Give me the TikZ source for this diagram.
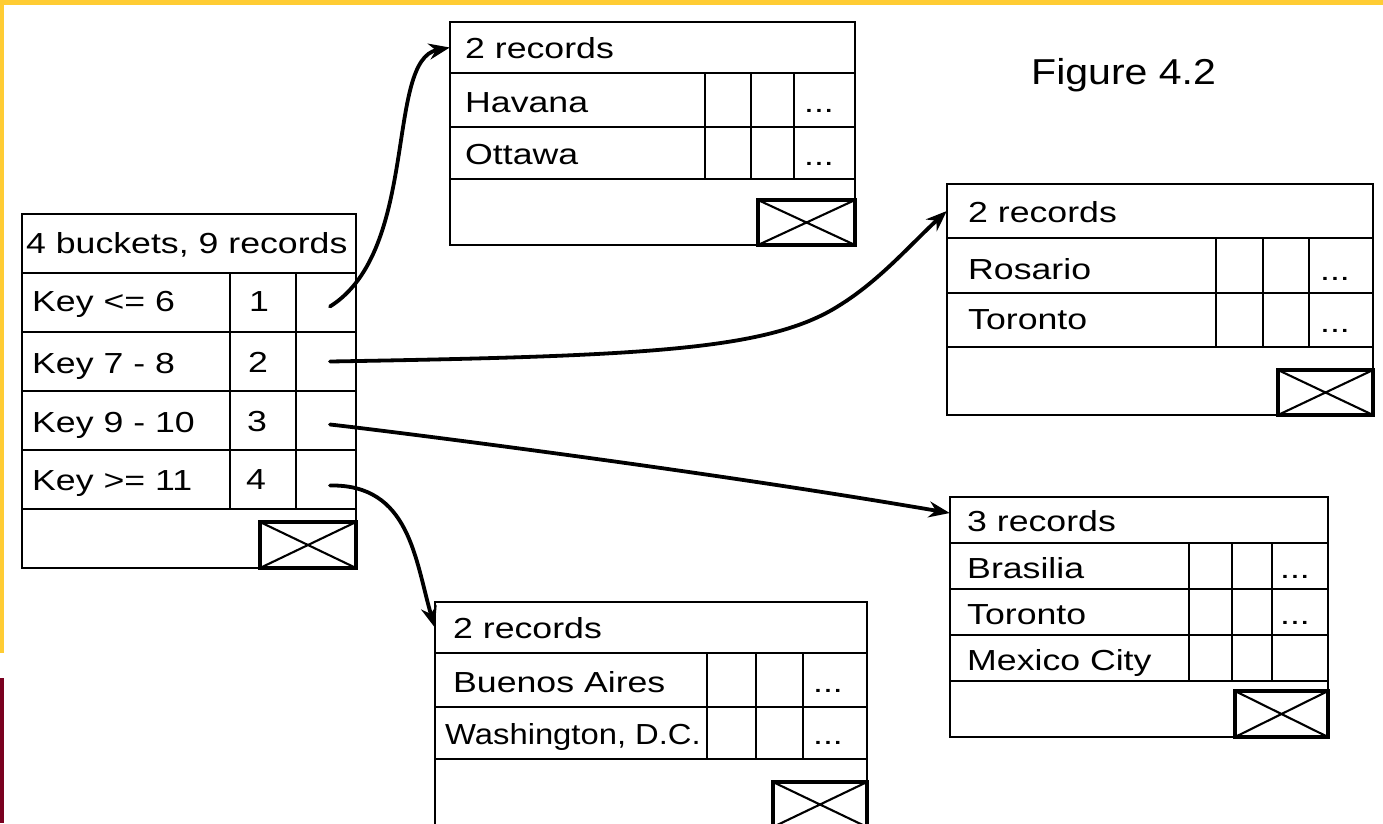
\documentclass[tikz,border=0pt]{standalone}
\usepackage{fontspec}
\setmainfont{Liberation Sans}[FakeStretch=1.23]
\newfontfamily\narrowfont{Liberation Sans}[FakeStretch=1.13]
\newfontfamily\captionfont{Liberation Sans}[FakeStretch=1.14]
\usetikzlibrary{arrows.meta}

\definecolor{bandyellow}{RGB}{255,204,51}
\definecolor{bandmaroon}{RGB}{122,0,32}

\tikzset{
  gridline/.style={line width=2.1pt},
  crossbox/.style={line width=3.2pt},
  celltext/.style={anchor=base west, inner sep=0pt, font=\fontsize{29}{33}\selectfont},
  numtext/.style={anchor=base, inner sep=0pt, font=\fontsize{29}{33}\selectfont},
  slot/.style={draw=none, inner sep=0pt},
  ptr/.style={line width=3.8pt, line cap=round, -{Stealth[length=21pt,width=16pt]}}
}

\begin{document}
\begin{tikzpicture}[x=1pt,y=-1pt]
\clip (0,0) rectangle (1383,823);
\fill[white] (0,0) rectangle (1383,823);

% slide frame bands
\fill[bandyellow] (0,0) rectangle (1383,5);
\fill[bandyellow] (0,0) rectangle (4,653);
\fill[bandmaroon] (0,678) rectangle (4,823);

% ---------- index block ----------
\draw[gridline] (22,214) rectangle (356,568);
\foreach \y in {273,332,391,450,509} \draw[gridline] (22,\y) -- (356,\y);
\foreach \x in {230,296} \draw[gridline] (\x,273) -- (\x,509);
\draw[crossbox] (260,522) rectangle (356,568);
\draw[gridline] (260,522) -- (356,568) (260,568) -- (356,522);

\node[celltext] (ixhead) at (26,253) {4 buckets, 9 records};
\node[celltext] (k1) at (32,311) {Key <= 6};
\node[celltext] (k2) at (32,373) {Key 7 - 8};
\node[celltext] (k3) at (32,432) {Key 9 - 10};
\node[celltext] (k4) at (32,490) {Key >= 11};
\node[numtext] (n1) at (259,311) {1};
\node[numtext] (n2) at (258,372) {2};
\node[numtext] (n3) at (257,431) {3};
\node[numtext] (n4) at (256,489) {4};
\node[slot, minimum width=60, minimum height=59] (p1) at (326,302.5) {};
\node[slot, minimum width=60, minimum height=59] (p2) at (326,361.5) {};
\node[slot, minimum width=60, minimum height=59] (p3) at (326,420.5) {};
\node[slot, minimum width=60, minimum height=59] (p4) at (326,479.5) {};

% ---------- bucket: Havana / Ottawa ----------
\draw[gridline] (450,22) rectangle (855,245);
\foreach \y in {73,127,179} \draw[gridline] (450,\y) -- (855,\y);
\foreach \x in {705,751,794} \draw[gridline] (\x,73) -- (\x,179);
\draw[crossbox] (758,200) rectangle (855,245);
\draw[gridline] (758,200) -- (855,245) (758,245) -- (855,200);
\node[slot, minimum width=405, minimum height=51] (h1) at (652.5,47.5) {};
\node[celltext] (t1) at (465,58) {2 records};
\node[celltext] (r11) at (465,112) {Havana};
\node[celltext] (r12) at (465,164) {Ottawa};
\node[numtext] (d11) at (819,112) {...};
\node[numtext] (d12) at (819,165) {...};

% ---------- bucket: Rosario / Toronto ----------
\draw[gridline] (947,184) rectangle (1373,415);
\foreach \y in {238,293,347} \draw[gridline] (947,\y) -- (1373,\y);
\foreach \x in {1216,1263,1309} \draw[gridline] (\x,238) -- (\x,347);
\draw[crossbox] (1278,370) rectangle (1373,415);
\draw[gridline] (1278,370) -- (1373,415) (1278,415) -- (1373,370);
\node[slot, minimum width=426, minimum height=54] (h2) at (1160,211) {};
\node[celltext] (t2) at (968,222) {2 records};
\node[celltext] (r21) at (968,279) {Rosario};
\node[celltext] (r22) at (968,329) {Toronto};
\node[numtext] (d21) at (1335,280) {...};
\node[numtext] (d22) at (1335,332) {...};

% ---------- bucket: Brasilia / Toronto / Mexico City ----------
\draw[gridline] (950,497) rectangle (1328,737);
\foreach \y in {543,589,635,681} \draw[gridline] (950,\y) -- (1328,\y);
\foreach \x in {1189,1232,1272} \draw[gridline] (\x,543) -- (\x,681);
\draw[crossbox] (1235,691) rectangle (1328,737);
\draw[gridline] (1235,691) -- (1328,737) (1235,737) -- (1328,691);
\node[slot, minimum width=378, minimum height=46] (h3) at (1139,520) {};
\node[celltext] (t3) at (967,531) {3 records};
\node[celltext] (r31) at (967,578) {Brasilia};
\node[celltext] (r32) at (967,624) {Toronto};
\node[celltext] (r33) at (967,670) {Mexico City};
\node[numtext] (d31) at (1295,578) {...};
\node[numtext] (d32) at (1295,624) {...};

% ---------- bucket: Buenos Aires / Washington ----------
\draw[gridline] (435,602) rectangle (867,827);
\foreach \y in {653,707,759} \draw[gridline] (435,\y) -- (867,\y);
\foreach \x in {707,756,803} \draw[gridline] (\x,653) -- (\x,759);
\draw[crossbox] (773,782) rectangle (867,827);
\draw[gridline] (773,782) -- (867,827) (773,827) -- (867,782);
\node[slot, minimum width=432, minimum height=51] (h4) at (651,627.5) {};
\node[celltext] (t4) at (453,638) {2 records};
\node[celltext] (r41) at (453,692) {Buenos Aires};
\node[celltext, font=\narrowfont\fontsize{29}{33}\selectfont] (r42) at (445,744) {Washington, D.C.};
\node[numtext] (d41) at (828,692) {...};
\node[numtext] (d42) at (828,744) {...};

% caption
\node[anchor=base west, inner sep=0pt, font=\captionfont\fontsize{36}{40}\selectfont] (fig) at (1031,84) {Figure 4.2};

% ---------- pointers from the index to the buckets ----------
\draw[ptr] ([shift={(4,4)}]p1.center) .. controls (420,250) and (385,60) .. (h1.west);
\draw[ptr] ([shift={(4,0)}]p2.center) .. controls (650,356) and (770,350) .. (840,305)
           .. controls (880,280) and (910,245) .. (h2.west);
\draw[ptr] ([shift={(4,4)}]p3.center) .. controls (380,430) and (700,470) .. ([yshift=7pt]h3.west);
\draw[ptr] ([shift={(4,6)}]p4.center) .. controls (410,484) and (415,560) .. (h4.west);
\end{tikzpicture}
\end{document}
